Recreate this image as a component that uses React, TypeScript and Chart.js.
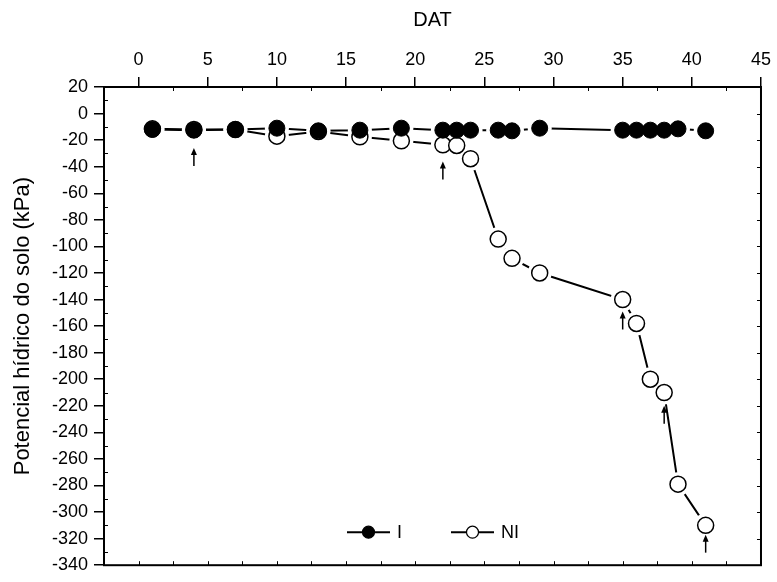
import { useEffect, useRef } from "react";
import { Chart, registerables } from "chart.js";

Chart.register(...registerables);

const days = [1, 4, 7, 10, 13, 16, 19, 22, 23, 24, 26, 27, 29, 35, 36, 37, 38, 39, 41];
const irrigated = [-12, -12.5, -12, -11, -13, -12.5, -11, -12.5, -12.5, -12.5, -12.5, -13, -11, -12.5, -12.5, -12.5, -12.5, -11.5, -13];
const nonIrrigated = [-11.5, -12, -12, -17, -13.5, -17.5, -20.5, -23.5, -24, -34, -94.5, -109, -120, -140, -158, -200, -210, -279, -310];
const seriesLabels = ["I", "NI"];
const xTicks = [0, 5, 10, 15, 20, 25, 30, 35, 40, 45];
const yTicks = [20, 0, -20, -40, -60, -80, -100, -120, -140, -160, -180, -200, -220, -240, -260, -280, -300, -320, -340];
const arrowDays = [4, 22, 35, 38, 41];
const arrowTips = [-26, -36, -149, -220, -317];

const FONT = "'Liberation Sans', Arial, sans-serif";

const toPts = (ys: number[]) => days.map((d, i) => ({ x: d, y: ys[i] }));

const framePlugin = {
  id: "frame",
  beforeDatasetsDraw(chart: any) {
    const { ctx, chartArea: a, scales } = chart;
    const xs = scales.x;
    const ys = scales.y;
    ctx.save();
    ctx.strokeStyle = "#000";
    ctx.lineWidth = 1;
    const xMinor: number[] = [];
    for (let i = 0; i < xTicks.length - 1; i++) xMinor.push((xTicks[i] + xTicks[i + 1]) / 2);
    xMinor.unshift(xTicks[0] - (xTicks[1] - xTicks[0]) / 2);
    ctx.beginPath();
    xMinor.forEach((v) => {
      const px = Math.round(xs.getPixelForValue(v)) + 0.5;
      ctx.moveTo(px, a.top);
      ctx.lineTo(px, a.top + 4);
    });
    [...xTicks, ...xMinor].forEach((v) => {
      const px = Math.round(xs.getPixelForValue(v)) + 0.5;
      ctx.moveTo(px, a.bottom);
      ctx.lineTo(px, a.bottom - 4);
    });
    const yMinor: number[] = [];
    for (let i = 0; i < yTicks.length - 1; i++) yMinor.push((yTicks[i] + yTicks[i + 1]) / 2);
    yMinor.forEach((v) => {
      const py = Math.round(ys.getPixelForValue(v)) + 0.5;
      ctx.moveTo(a.left, py);
      ctx.lineTo(a.left + 4, py);
    });
    yTicks.forEach((v) => {
      const py = Math.round(ys.getPixelForValue(v)) + 0.5;
      ctx.moveTo(a.right, py);
      ctx.lineTo(a.right - 4, py);
    });
    ctx.stroke();
    ctx.lineWidth = 2;
    ctx.strokeRect(a.left, a.top, a.right - a.left, a.bottom - a.top);
    ctx.restore();
  },
  afterDatasetsDraw(chart: any) {
    const { ctx, chartArea: a, scales } = chart;
    const xs = scales.x;
    const ys = scales.y;
    ctx.save();
    ctx.strokeStyle = "#000";
    ctx.fillStyle = "#000";
    ctx.lineWidth = 1.5;
    arrowDays.forEach((d, i) => {
      const x = xs.getPixelForValue(d);
      const y = ys.getPixelForValue(arrowTips[i]);
      ctx.beginPath();
      ctx.moveTo(x, y + 5);
      ctx.lineTo(x, y + 18);
      ctx.stroke();
      ctx.beginPath();
      ctx.moveTo(x, y);
      ctx.lineTo(x - 3, y + 7);
      ctx.lineTo(x + 3, y + 7);
      ctx.closePath();
      ctx.fill();
    });
    const ly = a.bottom - 33;
    const starts = [a.left + 243, a.left + 347];
    ctx.font = `18px ${FONT}`;
    ctx.textBaseline = "middle";
    ctx.textAlign = "left";
    seriesLabels.forEach((lab, i) => {
      const x0 = starts[i];
      ctx.lineWidth = 2;
      ctx.strokeStyle = "#000";
      ctx.beginPath();
      ctx.moveTo(x0, ly);
      ctx.lineTo(x0 + 43, ly);
      ctx.stroke();
      ctx.beginPath();
      ctx.arc(x0 + 21.5, ly, 6, 0, Math.PI * 2);
      ctx.fillStyle = i === 0 ? "#000" : "#fff";
      ctx.fill();
      ctx.lineWidth = 1.2;
      ctx.stroke();
      ctx.fillStyle = "#000";
      ctx.fillText(lab, x0 + 50, ly + 1);
    });
    ctx.restore();
  },
};

export default function App() {
  const ref = useRef<HTMLCanvasElement | null>(null);
  useEffect(() => {
    if (!ref.current) return;
    Chart.defaults.font.family = FONT;
    Chart.defaults.color = "#000";
    const lineDs = (ys: number[], order: number) => ({
      data: toPts(ys),
      showLine: true,
      borderColor: "#000",
      borderWidth: 2,
      pointRadius: 0,
      pointHoverRadius: 0,
      order,
    });
    const haloDs = (ys: number[], order: number) => ({
      data: toPts(ys),
      showLine: false,
      pointRadius: 12,
      pointBackgroundColor: "#fff",
      pointBorderColor: "#fff",
      pointBorderWidth: 0,
      order,
    });
    const chart = new Chart(ref.current, {
      type: "scatter",
      data: {
        datasets: [
          { label: seriesLabels[0] + " line", ...lineDs(irrigated, 6) },
          { label: seriesLabels[1] + " line", ...lineDs(nonIrrigated, 5) },
          { label: "halo NI", ...haloDs(nonIrrigated, 4) },
          { label: "halo I", ...haloDs(irrigated, 3) },
          {
            label: seriesLabels[1],
            data: toPts(nonIrrigated),
            showLine: false,
            pointRadius: 8,
            pointBackgroundColor: "#fff",
            pointBorderColor: "#000",
            pointBorderWidth: 1.5,
            order: 2,
          },
          {
            label: seriesLabels[0],
            data: toPts(irrigated),
            showLine: false,
            pointRadius: 8,
            pointBackgroundColor: "#000",
            pointBorderColor: "#000",
            pointBorderWidth: 1,
            order: 1,
          },
        ],
      } as any,
      options: {
        animation: false,
        responsive: false,
        devicePixelRatio: 1,
        events: [],
        layout: { padding: { left: 0, right: 14, top: 0, bottom: 7 } },
        plugins: { legend: { display: false }, tooltip: { enabled: false } },
        scales: {
          x: {
            type: "linear",
            position: "top",
            min: -2.5,
            max: 45,
            afterBuildTicks: (s: any) => {
              s.ticks = xTicks.map((v) => ({ value: v }));
            },
            afterFit: (s: any) => {
              s.height = 87;
            },
            ticks: { font: { size: 18 }, color: "#000", padding: 6, maxRotation: 0, autoSkip: false },
            grid: { display: true, drawOnChartArea: false, drawTicks: true, tickLength: 10, color: "#000", lineWidth: 1.5 },
            border: { display: false },
            title: { display: true, text: "DAT", font: { size: 20 }, color: "#000", padding: { top: 8 } },
          },
          y: {
            type: "linear",
            position: "left",
            min: -340,
            max: 20,
            afterBuildTicks: (s: any) => {
              s.ticks = yTicks.map((v) => ({ value: v }));
            },
            afterFit: (s: any) => {
              s.width = 104;
            },
            ticks: { font: { size: 18 }, color: "#000", padding: 6, autoSkip: false },
            grid: { display: true, drawOnChartArea: false, drawTicks: true, tickLength: 10, color: "#000", lineWidth: 1.5 },
            border: { display: false },
            title: { display: true, text: "Potencial hídrico do solo (kPa)", font: { size: 22 }, color: "#000", padding: { top: 10 } },
          },
        },
      } as any,
      plugins: [framePlugin],
    });
    return () => chart.destroy();
  }, []);
  return (
    <div style={{ position: "absolute", left: 0, top: 0, width: 777, height: 582, background: "#fff" }}>
      <canvas ref={ref} width={777} height={582} style={{ display: "block", width: 777, height: 582 }} />
    </div>
  );
}
